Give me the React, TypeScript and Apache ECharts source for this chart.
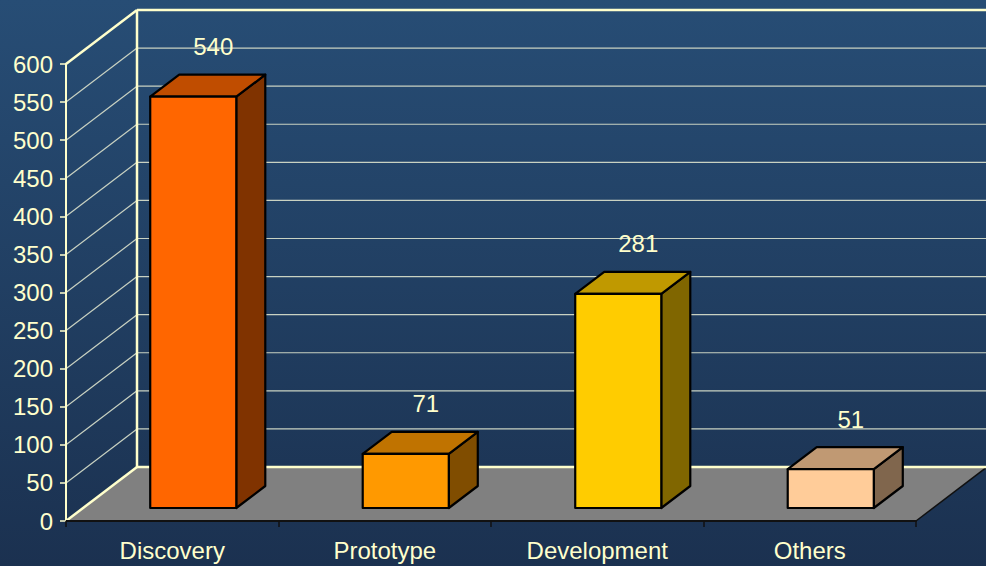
import React, { useEffect, useRef } from "react";
import * as echarts from "echarts";

const categories = ["Discovery", "Prototype", "Development", "Others"];
const values = [540, 71, 281, 51];
const yTicks = [0, 50, 100, 150, 200, 250, 300, 350, 400, 450, 500, 550, 600];

const FRONT = ["#FF6600", "#FF9900", "#FFCC00", "#FFCC99"];
const TOP = ["#C04D00", "#C07300", "#C09900", "#C09973"];
const SIDE = ["#803300", "#804D00", "#806600", "#80664D"];

const CREAM = "#FFFFCC";
const FONT = "'Liberation Sans', Arial, sans-serif";
const FS = 24;
const DX = 71;
const DY = -54;
const BFX = 21;
const BFY = -13;
const BDX = 29;
const BDY = -22;

export default function App() {
  const ref = useRef<HTMLDivElement>(null);
  useEffect(() => {
    if (!ref.current) return;
    const chart = echarts.init(ref.current, null, { renderer: "svg" });
    const option: any = {
      animation: false,
      backgroundColor: new echarts.graphic.LinearGradient(0, 0, 0, 1, [
        { offset: 0, color: "#274D75" },
        { offset: 1, color: "#1B3150" },
      ]),
      grid: { left: 66, right: 70, top: 64, bottom: 45 },
      xAxis: {
        type: "category",
        data: categories,
        axisLine: { lineStyle: { color: "#111", width: 2 } },
        axisTick: { show: true, length: 6, lineStyle: { color: "#111", width: 1.5 } },
        axisLabel: { color: CREAM, fontSize: FS, fontFamily: FONT, margin: 17 },
        splitLine: { show: false },
        z: 5,
      },
      yAxis: {
        type: "value",
        min: 0,
        max: 600,
        interval: 50,
        axisLine: { show: true, lineStyle: { color: CREAM, width: 2 } },
        axisTick: { show: true, length: 6, lineStyle: { color: CREAM, width: 1.5 } },
        axisLabel: { color: CREAM, fontSize: FS, fontFamily: FONT, margin: 13 },
        splitLine: { show: false },
        z: 5,
      },
      series: [
        {
          type: "custom",
          z: 1,
          data: [[0, 0]],
          renderItem: (params: any, api: any) => {
            const cs = params.coordSys;
            const L = cs.x;
            const R = cs.x + cs.width;
            const B = api.coord([0, 0])[1];
            return {
              type: "group",
              children: [
                {
                  type: "polygon",
                  shape: { points: [[L, B], [L + DX, B + DY], [R + DX, B + DY], [R, B]] },
                  style: { fill: "#808080", stroke: null },
                },
                {
                  type: "line",
                  shape: { x1: R, y1: B, x2: R + DX, y2: B + DY },
                  style: { stroke: "#111", lineWidth: 1.5 },
                },
              ],
            };
          },
        },
        {
          type: "custom",
          z: 2,
          data: yTicks.map((v) => [0, v]),
          renderItem: (params: any, api: any) => {
            const cs = params.coordSys;
            const L = cs.x;
            const R = cs.x + cs.width;
            const v = api.value(1);
            const y = api.coord([0, v])[1];
            const edge = v === 0 || v === 600;
            const stroke = edge ? CREAM : "#C9D2C2";
            const lw = edge ? 2.5 : 1.2;
            const children: any[] = [
              {
                type: "line",
                shape: { x1: L, y1: y, x2: L + DX, y2: y + DY },
                style: { stroke, lineWidth: lw },
              },
              {
                type: "line",
                shape: { x1: L + DX, y1: y + DY, x2: R + DX + 2, y2: y + DY },
                style: { stroke, lineWidth: lw },
              },
            ];
            if (v === 600) {
              const y0 = api.coord([0, 0])[1];
              children.push({
                type: "line",
                shape: { x1: L + DX, y1: y + DY, x2: L + DX, y2: y0 + DY },
                style: { stroke: CREAM, lineWidth: 2.5 },
              });
            }
            return { type: "group", children };
          },
        },
        {
          type: "custom",
          z: 3,
          data: values.map((v, i) => [i, v]),
          renderItem: (params: any, api: any) => {
            const i = api.value(0);
            const v = api.value(1);
            const c = api.coord([i, 0]);
            const t = api.coord([i, v]);
            const w = api.size([1, 0])[0] * 0.405;
            const x0 = c[0] + BFX - w / 2;
            const x1 = x0 + w;
            const yb = c[1] + BFY;
            const yt = t[1] + BFY;
            const st = { stroke: "#000", lineWidth: 2.2, lineJoin: "round" };
            return {
              type: "group",
              children: [
                {
                  type: "polygon",
                  shape: { points: [[x1, yt], [x1 + BDX, yt + BDY], [x1 + BDX, yb + BDY], [x1, yb]] },
                  style: { fill: SIDE[i], ...st },
                },
                {
                  type: "polygon",
                  shape: { points: [[x0, yt], [x0 + BDX, yt + BDY], [x1 + BDX, yt + BDY], [x1, yt]] },
                  style: { fill: TOP[i], ...st },
                },
                {
                  type: "rect",
                  shape: { x: x0, y: yt, width: w, height: yb - yt },
                  style: { fill: FRONT[i], ...st },
                },
                {
                  type: "text",
                  x: (x0 + x1) / 2 + 20,
                  y: yt - 50,
                  style: {
                    text: String(v),
                    fill: CREAM,
                    font: `${FS}px ${FONT}`,
                    textAlign: "center",
                    textVerticalAlign: "middle",
                  },
                },
              ],
            };
          },
        },
      ],
    };
    chart.setOption(option);
    return () => chart.dispose();
  }, []);
  return (
    <div
      ref={ref}
      style={{ position: "fixed", left: 0, top: 0, width: 986, height: 566 }}
    />
  );
}
